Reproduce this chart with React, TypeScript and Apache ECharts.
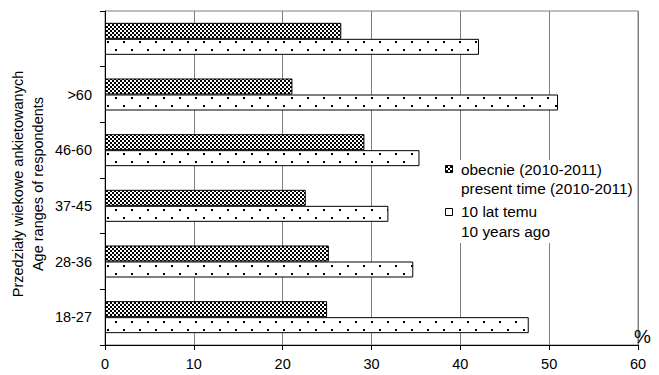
import { useEffect, useRef } from "react";
import * as echarts from "echarts";

// Age ranges, bottom to top (the topmost row has no label)
const ageGroups = ["18-27", "28-36", "37-45", "46-60", ">60", ""];
// Share of respondents, %
const presentTime = [25.0, 25.2, 22.6, 29.2, 21.1, 26.6];
const tenYearsAgo = [47.7, 34.7, 31.9, 35.4, 51.0, 42.1];

const legendPresent = ["obecnie (2010-2011)", "present time (2010-2011)"];
const legendPast = ["10 lat temu", "10 years ago"];
const axisTitle = ["Przedziały wiekowe ankietowanych", "Age ranges of respondents"];

const FONT = "'Liberation Sans', Arial, sans-serif";

function makeTile(w: number, h: number, dots: [number, number, number, number][]) {
  const c = document.createElement("canvas");
  c.width = w;
  c.height = h;
  const ctx = c.getContext("2d")!;
  ctx.fillStyle = "#ffffff";
  ctx.fillRect(0, 0, w, h);
  ctx.fillStyle = "#000000";
  dots.forEach(([x, y, dw, dh]) => ctx.fillRect(x, y, dw, dh));
  return c;
}

export default function App() {
  const ref = useRef<HTMLDivElement>(null);

  useEffect(() => {
    if (!ref.current) return;
    const chart = echarts.init(ref.current, null, { renderer: "svg" });

    const checker = makeTile(4, 4, [
      [0, 0, 2, 2],
      [2, 2, 2, 2],
    ]);
    // staggered dots, rows 8px apart
    const dotted = makeTile(16, 16, [
      [3, 1, 2, 2],
      [11, 9, 2, 2],
    ]);
    const checkerFill = { image: checker, repeat: "repeat" } as any;
    const dottedFill = { image: dotted, repeat: "repeat" } as any;

    const legendText = (x: number, y: number, lines: string[]) => ({
      type: "text",
      x,
      y,
      z: 101,
      style: {
        text: lines.join("\n"),
        fill: "#000",
        font: `15.4px ${FONT}`,
        align: "left",
        verticalAlign: "top",
        lineHeight: 19.5,
      },
    });

    chart.setOption({
      animation: false,
      backgroundColor: "#ffffff",
      textStyle: { fontFamily: FONT },
      grid: {
        left: 105,
        right: 21,
        top: 11,
        bottom: 30,
        show: true,
        borderColor: "#808080",
        borderWidth: 1,
        outerBoundsMode: "none",
      },
      xAxis: {
        type: "value",
        min: 0,
        max: 60,
        interval: 10,
        axisLine: { show: true, lineStyle: { color: "#000", width: 1 } },
        axisTick: { show: true, inside: false, length: 5, lineStyle: { color: "#000" } },
        axisLabel: { color: "#000", fontSize: 14.5, margin: 11, fontFamily: FONT },
        splitLine: { show: true, lineStyle: { color: "#808080", width: 1 } },
      },
      yAxis: {
        type: "category",
        data: ageGroups,
        axisLine: { show: true, lineStyle: { color: "#000", width: 1 } },
        axisTick: { show: true, inside: false, length: 5, lineStyle: { color: "#000" } },
        axisLabel: { color: "#000", fontSize: 14.5, margin: 13, fontFamily: FONT },
        splitLine: { show: false },
      },
      series: [
        {
          name: legendPresent.join("\n"),
          type: "bar",
          data: presentTime,
          barWidth: 16,
          barGap: "0%",
          itemStyle: { color: checkerFill, borderColor: "#000", borderWidth: 1 },
        },
        {
          name: legendPast.join("\n"),
          type: "bar",
          data: tenYearsAgo,
          barWidth: 16,
          barGap: "0%",
          itemStyle: { color: dottedFill, borderColor: "#000", borderWidth: 1 },
        },
      ],
      graphic: [
        {
          type: "text",
          x: 28,
          y: 184,
          rotation: Math.PI / 2,
          style: {
            text: axisTitle.join("\n"),
            fill: "#000",
            font: `14.5px ${FONT}`,
            align: "center",
            verticalAlign: "middle",
            lineHeight: 20,
          },
        },
        {
          type: "text",
          x: 634,
          y: 346,
          z: 100,
          style: {
            text: "%",
            fill: "#000",
            font: `19px ${FONT}`,
            align: "left",
            verticalAlign: "bottom",
          },
        },
        {
          type: "group",
          z: 100,
          children: [
            {
              type: "rect",
              shape: { x: 440, y: 160, width: 196, height: 83 },
              style: { fill: "#ffffff" },
              z: 100,
            },
            {
              type: "rect",
              shape: { x: 445.5, y: 165.5, width: 7, height: 7 },
              style: { fill: checkerFill, stroke: "#000", lineWidth: 1 },
              z: 101,
            },
            legendText(461, 159.5, legendPresent),
            {
              type: "rect",
              shape: { x: 445.5, y: 208.5, width: 7, height: 7 },
              style: { fill: "#ffffff", stroke: "#000", lineWidth: 1 },
              z: 101,
            },
            legendText(461, 202, legendPast),
          ],
        },
      ],
    });

    return () => chart.dispose();
  }, []);

  return <div ref={ref} style={{ width: 659, height: 375, position: "absolute", left: 0, top: 0 }} />;
}
